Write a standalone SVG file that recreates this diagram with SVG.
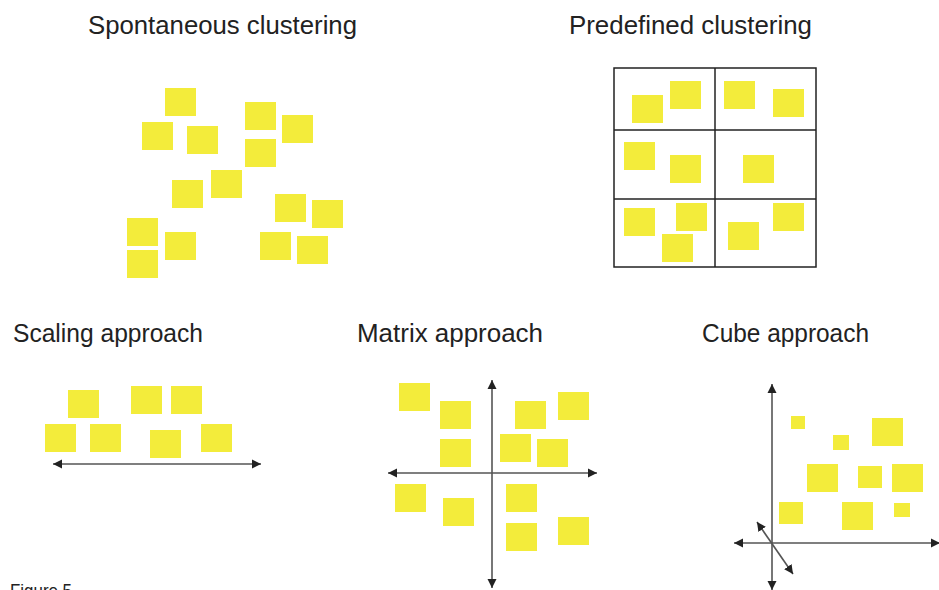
<svg xmlns="http://www.w3.org/2000/svg" width="939" height="590" viewBox="0 0 939 590">
<defs>
<style>
.t{font-family:"Liberation Sans",Arial,sans-serif;font-size:26px;fill:#222}
.n{fill:#F3EC3B}
.ax{stroke:#555;stroke-width:1.6;fill:none}
.g{stroke:#222;stroke-width:1.5;fill:none}
</style>
<marker id="ah" viewBox="0 0 10 10" refX="10" refY="5" markerUnits="userSpaceOnUse" markerWidth="9" markerHeight="10" orient="auto-start-reverse">
<path d="M0,0 L10,5 L0,10 z" fill="#222"/>
</marker>
</defs>
<rect width="939" height="590" fill="#fff"/>

<g id="spontaneous">
<text class="t" x="88" y="34" textLength="269" lengthAdjust="spacingAndGlyphs">Spontaneous clustering</text>
<rect class="n" x="165" y="88" width="31" height="28"/>
<rect class="n" x="142" y="122" width="31" height="28"/>
<rect class="n" x="187" y="126" width="31" height="28"/>
<rect class="n" x="245" y="102" width="31" height="28"/>
<rect class="n" x="282" y="115" width="31" height="28"/>
<rect class="n" x="245" y="139" width="31" height="28"/>
<rect class="n" x="172" y="180" width="31" height="28"/>
<rect class="n" x="211" y="170" width="31" height="28"/>
<rect class="n" x="275" y="194" width="31" height="28"/>
<rect class="n" x="312" y="200" width="31" height="28"/>
<rect class="n" x="127" y="218" width="31" height="28"/>
<rect class="n" x="165" y="232" width="31" height="28"/>
<rect class="n" x="127" y="250" width="31" height="28"/>
<rect class="n" x="260" y="232" width="31" height="28"/>
<rect class="n" x="297" y="236" width="31" height="28"/>
</g>

<g id="predefined">
<text class="t" x="569" y="34" textLength="243" lengthAdjust="spacingAndGlyphs">Predefined clustering</text>
<rect class="g" x="614" y="68" width="202" height="199"/>
<line class="g" x1="715" y1="68" x2="715" y2="267"/>
<line class="g" x1="614" y1="130" x2="816" y2="130"/>
<line class="g" x1="614" y1="199" x2="816" y2="199"/>
<rect class="n" x="632" y="95" width="31" height="28"/>
<rect class="n" x="670" y="81" width="31" height="28"/>
<rect class="n" x="724" y="81" width="31" height="28"/>
<rect class="n" x="773" y="89" width="31" height="28"/>
<rect class="n" x="624" y="142" width="31" height="28"/>
<rect class="n" x="670" y="155" width="31" height="28"/>
<rect class="n" x="743" y="155" width="31" height="28"/>
<rect class="n" x="624" y="208" width="31" height="28"/>
<rect class="n" x="676" y="203" width="31" height="28"/>
<rect class="n" x="662" y="234" width="31" height="28"/>
<rect class="n" x="728" y="222" width="31" height="28"/>
<rect class="n" x="773" y="203" width="31" height="28"/>
</g>

<g id="scaling">
<text class="t" x="13" y="342" textLength="190" lengthAdjust="spacingAndGlyphs">Scaling approach</text>
<rect class="n" x="68" y="390" width="31" height="28"/>
<rect class="n" x="131" y="386" width="31" height="28"/>
<rect class="n" x="171" y="386" width="31" height="28"/>
<rect class="n" x="45" y="424" width="31" height="28"/>
<rect class="n" x="90" y="424" width="31" height="28"/>
<rect class="n" x="150" y="430" width="31" height="28"/>
<rect class="n" x="201" y="424" width="31" height="28"/>
</g>

<g id="matrix">
<text class="t" x="357" y="342" textLength="186" lengthAdjust="spacingAndGlyphs">Matrix approach</text>
<rect class="n" x="399" y="383" width="31" height="28"/>
<rect class="n" x="440" y="401" width="31" height="28"/>
<rect class="n" x="515" y="401" width="31" height="28"/>
<rect class="n" x="558" y="392" width="31" height="28"/>
<rect class="n" x="440" y="439" width="31" height="28"/>
<rect class="n" x="500" y="434" width="31" height="28"/>
<rect class="n" x="537" y="439" width="31" height="28"/>
<rect class="n" x="395" y="484" width="31" height="28"/>
<rect class="n" x="443" y="498" width="31" height="28"/>
<rect class="n" x="506" y="484" width="31" height="28"/>
<rect class="n" x="506" y="523" width="31" height="28"/>
<rect class="n" x="558" y="517" width="31" height="28"/>
</g>

<g id="cube">
<text class="t" x="702" y="342" textLength="167" lengthAdjust="spacingAndGlyphs">Cube approach</text>
<rect class="n" x="791" y="416" width="14" height="13"/>
<rect class="n" x="833" y="435" width="16" height="15"/>
<rect class="n" x="872" y="418" width="31" height="28"/>
<rect class="n" x="807" y="464" width="31" height="28"/>
<rect class="n" x="858" y="466" width="24" height="22"/>
<rect class="n" x="892" y="464" width="31" height="28"/>
<rect class="n" x="779" y="502" width="24" height="22"/>
<rect class="n" x="842" y="502" width="31" height="28"/>
<rect class="n" x="894" y="503" width="16" height="14"/>
</g>

<g id="connectors">
<line class="ax" x1="53" y1="464" x2="261" y2="464" marker-start="url(#ah)" marker-end="url(#ah)"/>
<line class="ax" x1="492" y1="380" x2="492" y2="588" marker-start="url(#ah)" marker-end="url(#ah)"/>
<line class="ax" x1="388" y1="473" x2="597" y2="473" marker-start="url(#ah)" marker-end="url(#ah)"/>
<line class="ax" x1="772" y1="384" x2="772" y2="590" marker-start="url(#ah)" marker-end="url(#ah)"/>
<line class="ax" x1="734" y1="543" x2="940" y2="543" marker-start="url(#ah)" marker-end="url(#ah)"/>
<line class="ax" x1="757" y1="522" x2="793" y2="574" marker-start="url(#ah)" marker-end="url(#ah)"/>
</g>

<g id="caption">
<text class="t" style="font-size:19px" x="10" y="597" textLength="62" lengthAdjust="spacingAndGlyphs">Figure 5</text>
</g>
</svg>
